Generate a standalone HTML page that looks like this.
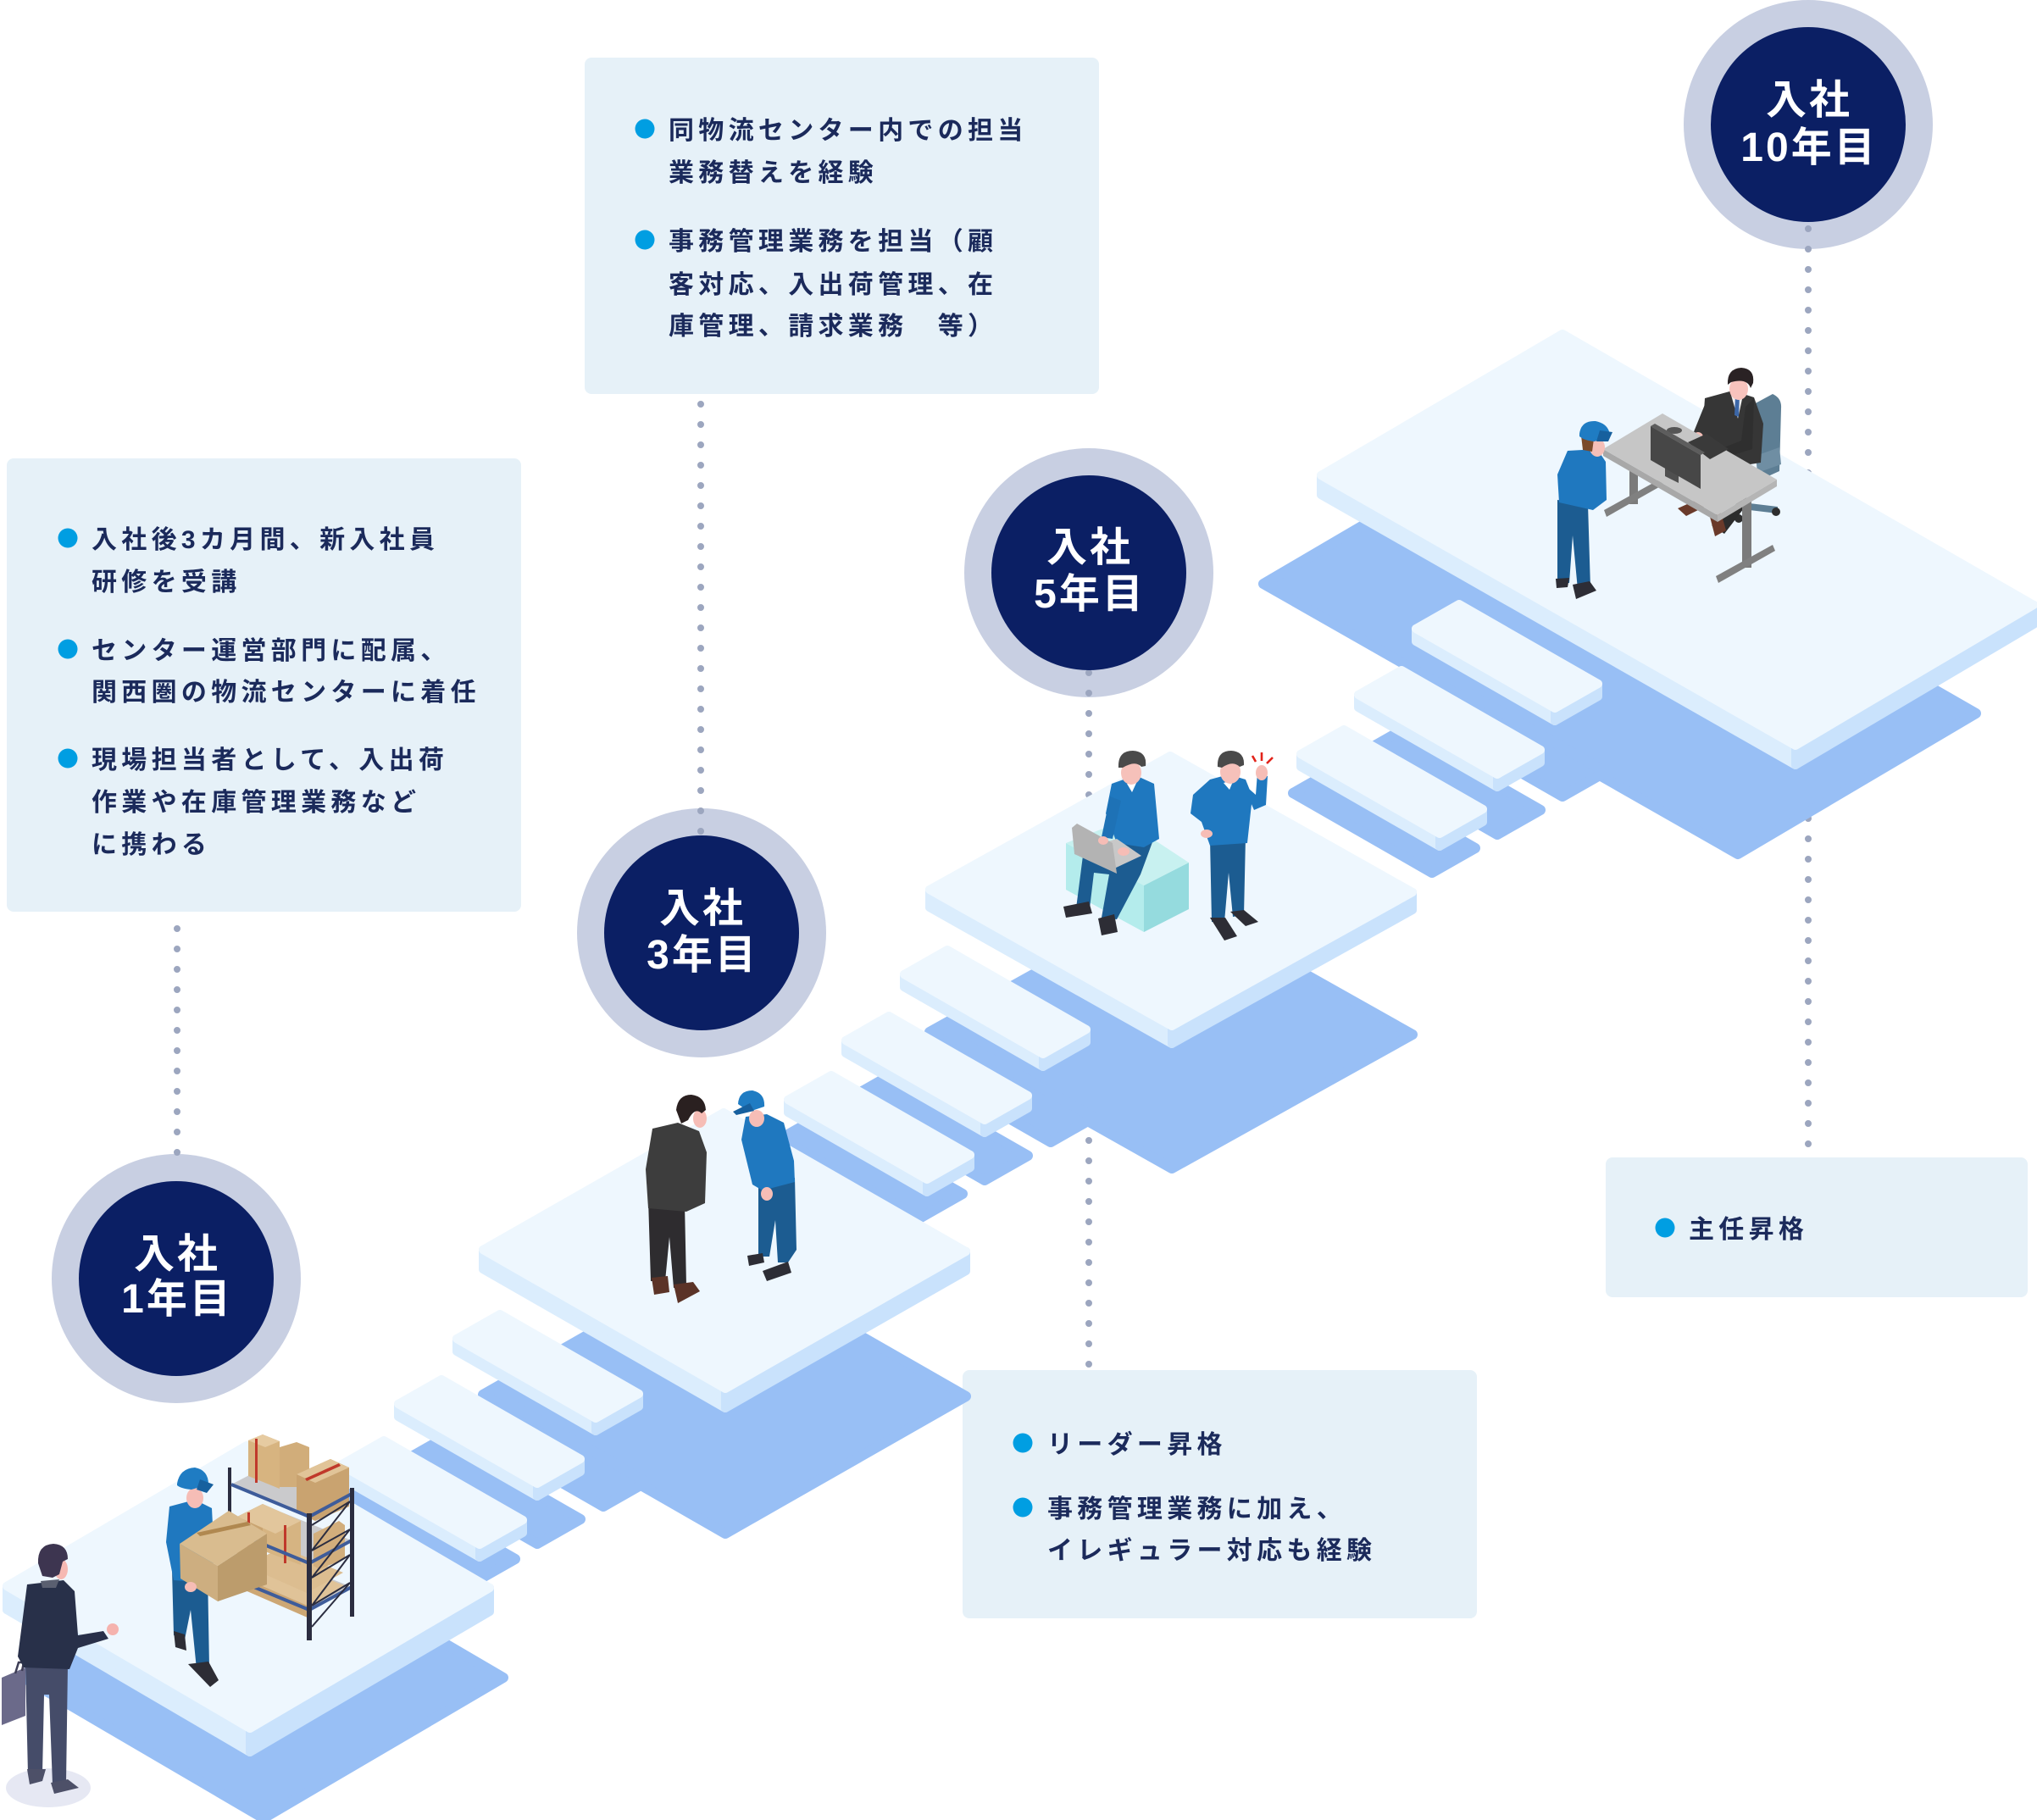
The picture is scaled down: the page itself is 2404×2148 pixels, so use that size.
<!DOCTYPE html>
<html><head><meta charset="utf-8">
<style>
html,body{margin:0;padding:0;background:#fff;}
svg{display:block;}
text{font-family:"Liberation Sans","Noto Sans CJK JP",sans-serif;font-weight:700;}
.bt{font-size:30px;fill:#1b2a5b;letter-spacing:5.3px;}
.ct{font-size:48px;fill:#ffffff;letter-spacing:3px;text-anchor:middle;}
.top{fill:#eef7fe;stroke:#eef7fe;stroke-width:10;stroke-linejoin:round;}
.ls{fill:#dbedfd;stroke:#dbedfd;stroke-width:10;stroke-linejoin:round;}
.rs{fill:#c9e2fc;stroke:#c9e2fc;stroke-width:10;stroke-linejoin:round;}
.sh{fill:#98bff5;stroke:#98bff5;stroke-width:12;stroke-linejoin:round;}
.dot{stroke:#9ca6bf;stroke-width:8;stroke-linecap:round;stroke-dasharray:0 24;fill:none;}
</style></head><body>
<svg width="2404" height="2148" viewBox="0 0 2404 2148" xmlns="http://www.w3.org/2000/svg">
<rect width="2404" height="2148" fill="#ffffff"/>

<!-- text boxes -->
<rect x="8" y="541" width="607" height="535" rx="8" fill="#e6f1f8"/>
<rect x="690" y="68" width="607" height="397" rx="8" fill="#e6f1f8"/>
<rect x="1136" y="1617" width="607" height="293" rx="8" fill="#e6f1f8"/>
<rect x="1895" y="1366" width="498" height="165" rx="8" fill="#e6f1f8"/>

<!-- box1 -->
<circle cx="80" cy="635" r="11.5" fill="#009ee2"/>
<circle cx="80" cy="766" r="11.5" fill="#009ee2"/>
<circle cx="80" cy="895" r="11.5" fill="#009ee2"/>
<text class="bt" x="108" y="647">入社後3カ月間、新入社員</text>
<text class="bt" x="108" y="697">研修を受講</text>
<text class="bt" x="108" y="778">センター運営部門に配属、</text>
<text class="bt" x="108" y="827">関西圏の物流センターに着任</text>
<text class="bt" x="108" y="907">現場担当者として、入出荷</text>
<text class="bt" x="108" y="957">作業や在庫管理業務など</text>
<text class="bt" x="108" y="1007">に携わる</text>

<!-- box2 -->
<circle cx="761" cy="152" r="11.5" fill="#009ee2"/>
<circle cx="761" cy="283" r="11.5" fill="#009ee2"/>
<text class="bt" x="789" y="164">同物流センター内での担当</text>
<text class="bt" x="789" y="214">業務替えを経験</text>
<text class="bt" x="789" y="295">事務管理業務を担当（顧</text>
<text class="bt" x="789" y="346">客対応、入出荷管理、在</text>
<text class="bt" x="789" y="395">庫管理、請求業務　等）</text>

<!-- box3 -->
<circle cx="1207" cy="1703" r="11.5" fill="#009ee2"/>
<circle cx="1207" cy="1779" r="11.5" fill="#009ee2"/>
<text class="bt" x="1236" y="1715">リーダー昇格</text>
<text class="bt" x="1236" y="1791">事務管理業務に加え、</text>
<text class="bt" x="1236" y="1840">イレギュラー対応も経験</text>

<!-- box4 -->
<circle cx="1965" cy="1449" r="11.5" fill="#009ee2"/>
<text class="bt" x="1993" y="1461">主任昇格</text>

<!-- circle rings -->
<circle cx="208" cy="1509" r="147" fill="#c8cfe2"/>
<circle cx="828" cy="1101" r="147" fill="#c8cfe2"/>
<circle cx="1285" cy="676" r="147" fill="#c8cfe2"/>
<circle cx="2134" cy="147" r="147" fill="#c8cfe2"/>

<!-- dotted lines -->
<line class="dot" x1="209" y1="1096" x2="209" y2="1380"/>
<line class="dot" x1="827" y1="477" x2="827" y2="985"/>
<line class="dot" x1="1285" y1="794" x2="1285" y2="1612"/>
<line class="dot" x1="2134" y1="270" x2="2134" y2="1356"/>

<!-- inner circles -->
<circle cx="208" cy="1509" r="115" fill="#0b1f64"/>
<circle cx="828" cy="1101" r="115" fill="#0b1f64"/>
<circle cx="1285" cy="676" r="115" fill="#0b1f64"/>
<circle cx="2134" cy="147" r="115" fill="#0b1f64"/>
<text class="ct" x="209" y="1496">入社</text>
<text class="ct" x="209" y="1549">1年目</text>
<text class="ct" x="829" y="1088">入社</text>
<text class="ct" x="829" y="1143">3年目</text>
<text class="ct" x="1286" y="662">入社</text>
<text class="ct" x="1286" y="717">5年目</text>
<text class="ct" x="2135" y="134">入社</text>
<text class="ct" x="2135" y="190">10年目</text>

<!-- shadows -->
<polygon class="sh" points="1491,689 1776,522 2332,842 2051,1008"/>
<polygon class="sh" points="1680,846 1731,817 1895,911 1844,940"/>
<polygon class="sh" points="1603,891 1654,862 1818,956 1767,985"/>
<polygon class="sh" points="1526,936 1577,907 1741,1001 1690,1030"/>
<polygon class="sh" points="1097,1218 1381,1060 1667,1221 1383,1379"/>
<polygon class="sh" points="1076,1254 1127,1225 1291,1319 1240,1348"/>
<polygon class="sh" points="998,1299 1049,1270 1213,1364 1162,1393"/>
<polygon class="sh" points="921,1344 972,1315 1136,1409 1085,1438"/>
<polygon class="sh" points="570,1646 854,1484 1140,1648 856,1810"/>
<polygon class="sh" points="548,1684 599,1655 763,1749 712,1778"/>
<polygon class="sh" points="470,1728 521,1699 685,1793 634,1822"/>
<polygon class="sh" points="393,1775 444,1746 608,1840 557,1869"/>
<polygon class="sh" points="24,1978 307,1812 594,1980 311,2146"/>

<!-- platform 10 -->
<polygon class="ls" points="1559,561 2119,880 2119,903 1559,584"/>
<polygon class="rs" points="2119,880 2400,714 2400,737 2119,903"/>
<polygon class="top" points="1559,561 1844,394 2400,714 2119,880"/>
<!-- stairs 10 -->
<polygon class="ls" points="1671,742 1835,836 1835,851 1671,757"/>
<polygon class="rs" points="1835,836 1886,807 1886,822 1835,851"/>
<polygon class="top" points="1671,742 1722,713 1886,807 1835,836"/>
<polygon class="ls" points="1603,820 1767,914 1767,929 1603,835"/>
<polygon class="rs" points="1767,914 1818,885 1818,900 1767,929"/>
<polygon class="top" points="1603,820 1654,791 1818,885 1767,914"/>
<polygon class="ls" points="1535,890 1699,984 1699,999 1535,905"/>
<polygon class="rs" points="1699,984 1750,955 1750,970 1699,999"/>
<polygon class="top" points="1535,890 1586,861 1750,955 1699,984"/>

<!-- platform 5 -->
<polygon class="ls" points="1097,1050 1383,1211 1383,1232 1097,1071"/>
<polygon class="rs" points="1383,1211 1667,1053 1667,1074 1383,1232"/>
<polygon class="top" points="1097,1050 1381,892 1667,1053 1383,1211"/>
<!-- stairs 5 -->
<polygon class="ls" points="1067,1150 1231,1244 1231,1259 1067,1165"/>
<polygon class="rs" points="1231,1244 1282,1215 1282,1230 1231,1259"/>
<polygon class="top" points="1067,1150 1118,1121 1282,1215 1231,1244"/>
<polygon class="ls" points="998,1228 1162,1322 1162,1337 998,1243"/>
<polygon class="rs" points="1162,1322 1213,1293 1213,1308 1162,1337"/>
<polygon class="top" points="998,1228 1049,1199 1213,1293 1162,1322"/>
<polygon class="ls" points="930,1298 1094,1392 1094,1407 930,1313"/>
<polygon class="rs" points="1094,1392 1145,1363 1145,1378 1094,1407"/>
<polygon class="top" points="930,1298 981,1269 1145,1363 1094,1392"/>

<!-- platform 3 -->
<polygon class="ls" points="570,1475 856,1639 856,1662 570,1498"/>
<polygon class="rs" points="856,1639 1140,1477 1140,1500 856,1662"/>
<polygon class="top" points="570,1475 854,1313 1140,1477 856,1639"/>
<!-- stairs 3 -->
<polygon class="ls" points="539,1580 703,1674 703,1689 539,1595"/>
<polygon class="rs" points="703,1674 754,1645 754,1660 703,1689"/>
<polygon class="top" points="539,1580 590,1551 754,1645 703,1674"/>
<polygon class="ls" points="470,1657 634,1751 634,1766 470,1672"/>
<polygon class="rs" points="634,1751 685,1722 685,1737 634,1766"/>
<polygon class="top" points="470,1657 521,1628 685,1722 634,1751"/>
<polygon class="ls" points="402,1729 566,1823 566,1838 402,1744"/>
<polygon class="rs" points="566,1823 617,1794 617,1809 566,1838"/>
<polygon class="top" points="402,1729 453,1700 617,1794 566,1823"/>

<!-- platform 1 -->
<polygon class="ls" points="8,1872 295,2040 295,2068 8,1900"/>
<polygon class="rs" points="295,2040 578,1874 578,1902 295,2068"/>
<polygon class="top" points="8,1872 291,1706 578,1874 295,2040"/>

<!-- ===== 10年 scene ===== -->
<!-- chair -->
<path d="M2068 478 L2092 465 Q2103 470 2102 482 L2100 556 L2078 566 Z" fill="#5d7e94"/>
<path d="M2072 538 L2100 528 L2102 548 L2074 558 Z" fill="#6f8ea3"/>
<path d="M2048 592 L2098 598 L2098 606 L2048 600 Z" fill="#5d7e94"/>
<circle cx="2096" cy="604" r="5" fill="#2e2e2e"/>
<circle cx="2052" cy="612" r="5" fill="#2e2e2e"/>
<!-- businessman -->
<path d="M2030 540 L2060 548 L2048 600 L2020 620 L2035 630 L2058 600 L2070 552 Z" fill="#2c2c2c"/>
<path d="M1980 600 L2000 591 L2012 598 L1990 609 Z" fill="#6a3a2a"/>
<path d="M2018 610 L2031 605 L2037 626 L2024 633 Z" fill="#6a3a2a"/>
<path d="M2012 470 L2045 461 L2070 469 L2081 500 L2078 546 L2040 552 L2020 532 L2010 500 Z" fill="#363636"/>
<path d="M2015 470 L2032 478 L2012 516 L1998 512 Z" fill="#363636"/>
<path d="M2060 480 L2070 470 L2068 530 L2035 540 L2030 530 L2055 520 Z" fill="#2f2f2f"/>
<path d="M2042 463 L2058 462 L2051 494 Z" fill="#f0f0f0"/>
<path d="M2048 466 L2053 466 L2052 492 L2047 490 Z" fill="#3c67a8"/>
<ellipse cx="2052" cy="459" rx="11" ry="13" fill="#f8c3bd"/>
<path d="M2039 454 Q2038 435 2055 434 Q2071 435 2069 452 L2066 458 Q2062 446 2043 451 Z" fill="#2a2224"/>
<circle cx="2004" cy="516" r="6" fill="#f6bdb6"/>
<circle cx="2032" cy="534" r="6" fill="#f6bdb6"/>
<!-- desk legs -->
<rect x="1923" y="555" width="10" height="40" fill="#7b7b7b"/>
<path d="M1893 602 L1960 565 L1963 572 L1896 610 Z" fill="#808080"/>
<rect x="2056" y="590" width="11" height="80" fill="#7b7b7b"/>
<path d="M2025 680 L2092 643 L2095 650 L2028 688 Z" fill="#808080"/>
<!-- desk top -->
<path d="M1892 530 L2027 608 L2027 616 L1892 538 Z" fill="#a8a8a8"/>
<path d="M2027 608 L2097 566 L2097 574 L2027 616 Z" fill="#b5b5b5"/>
<path d="M1892 530 L1962 488 L2097 566 L2027 608 Z" fill="#c6c6c6"/>
<!-- keyboard -->
<path d="M1992 522 L2014 512 L2040 530 L2018 542 Z" fill="#3a3a3a"/>
<!-- monitor -->
<ellipse cx="1976" cy="508" rx="9" ry="4" fill="#555"/>
<path d="M1965 543 L1981 551 L1981 570 L1965 562 Z" fill="#4f4f4f"/>
<path d="M1948 503 L1953 500 L2012 534 L2007 537 Z" fill="#5d5d5d"/>
<path d="M1948 503 L2007 537 L2007 577 L1948 543 Z" fill="#474747"/>
<!-- worker 10 -->
<path d="M1838 590 L1874 595 L1877 694 L1862 696 L1856 632 L1852 688 L1838 688 Z" fill="#1c5c91"/>
<path d="M1836 683 L1852 682 L1850 693 L1837 694 Z" fill="#2d2d35"/>
<path d="M1856 690 L1876 686 L1884 697 L1860 707 Z" fill="#2d2d35"/>
<path d="M1850 532 L1885 530 L1895 545 L1896 590 L1880 602 L1840 593 L1838 560 Z" fill="#1f78bf"/>
<ellipse cx="1885" cy="528" rx="9" ry="11" fill="#f5bfb8"/>
<path d="M1866 514 L1881 518 L1879 533 L1868 531 Z" fill="#7a4a2a"/>
<path d="M1864 512 Q1866 496 1883 497 Q1898 500 1900 513 L1882 521 Q1870 520 1864 515 Z" fill="#1f7cc3"/>
<path d="M1888 508 L1903 510 L1898 521 L1884 521 Z" fill="#17609e"/>

<!-- ===== 5年 scene ===== -->
<path d="M1258 995 L1350 1045 L1350 1100 L1258 1050 Z" fill="#b4ecec"/>
<path d="M1350 1045 L1403 1018 L1403 1073 L1350 1100 Z" fill="#95dbde"/>
<path d="M1258 995 L1327 968 L1403 1018 L1350 1045 Z" fill="#c8f1f0"/>
<!-- seated worker -->
<path d="M1322 988 L1360 994 L1346 1032 L1318 1085 L1300 1083 L1309 1032 L1291 1030 L1286 1072 L1270 1072 L1278 1010 Z" fill="#1c5c91"/>
<path d="M1255 1070 L1285 1064 L1289 1078 L1258 1083 Z" fill="#2d2d35"/>
<path d="M1296 1084 L1315 1079 L1319 1100 L1300 1104 Z" fill="#2d2d35"/>
<path d="M1312 925 L1340 915 L1362 925 L1368 990 L1350 1000 L1318 995 L1305 960 Z" fill="#1f78bf"/>
<path d="M1310 940 L1323 945 L1313 990 L1300 988 Z" fill="#1e72b6"/>
<path d="M1330 925 L1342 922 L1336 935 Z" fill="#ffffff"/>
<path d="M1285 1000 L1318 990 L1347 1010 L1315 1025 Z" fill="#c8c8c8"/>
<path d="M1265 977 L1271 972 L1313 995 L1318 1031 L1268 1008 Z" fill="#b3b3b3"/>
<ellipse cx="1302" cy="992" rx="6" ry="5" fill="#f6bdb6"/>
<ellipse cx="1326" cy="1005" rx="7" ry="5" fill="#f6bdb6"/>
<ellipse cx="1335" cy="912" rx="12" ry="14" fill="#f6c1ba"/>
<path d="M1320 906 Q1319 886 1337 886 Q1354 887 1352 904 L1347 905 Q1340 897 1325 906 Z" fill="#4a4a4a"/>
<!-- standing worker -->
<path d="M1428 990 L1470 988 L1468 1080 L1455 1082 L1450 1030 L1445 1088 L1430 1088 Z" fill="#1c5c91"/>
<path d="M1428 1083 L1446 1083 L1460 1105 L1445 1110 Z" fill="#2d2d35"/>
<path d="M1452 1076 L1468 1074 L1485 1088 L1470 1093 Z" fill="#2d2d35"/>
<path d="M1428 920 L1450 914 L1470 920 L1478 940 L1472 995 L1428 998 L1418 970 L1405 960 L1408 938 Z" fill="#1f78bf"/>
<path d="M1466 924 L1480 956 L1494 950 L1496 916 L1484 912 L1482 938 Z" fill="#1f78bf"/>
<ellipse cx="1489" cy="912" rx="7" ry="9" fill="#f6bdb6"/>
<ellipse cx="1424" cy="984" rx="7" ry="5" fill="#f6bdb6"/>
<path d="M1444 924 L1456 920 L1451 932 Z" fill="#ffffff"/>
<ellipse cx="1452" cy="911" rx="12" ry="14" fill="#f6c1ba"/>
<path d="M1437 905 Q1436 886 1453 886 Q1469 887 1468 903 L1463 905 Q1455 897 1442 906 Z" fill="#4a4a4a"/>
<path d="M1478 892 L1482 899 M1489 888 L1489 898 M1502 894 L1495 901" stroke="#e2231a" stroke-width="2.6" fill="none"/>

<!-- ===== 3年 scene ===== -->
<path d="M765 1415 L808 1420 L810 1518 L795 1520 L790 1460 L785 1512 L768 1512 Z" fill="#2e2c2f"/>
<path d="M769 1508 L788 1506 L790 1525 L772 1528 Z" fill="#5b3327"/>
<path d="M795 1516 L818 1513 L826 1524 L800 1538 Z" fill="#5b3327"/>
<path d="M770 1332 L800 1325 L825 1335 L834 1360 L832 1420 L810 1430 L765 1426 L762 1380 Z" fill="#3d3d3d"/>
<ellipse cx="826" cy="1320" rx="8" ry="11" fill="#f6bdb6"/>
<path d="M798 1310 Q800 1292 816 1292 Q832 1294 833 1310 L828 1314 Q820 1306 812 1322 L804 1326 Z" fill="#2a2020"/>
<path d="M895 1395 L938 1390 L940 1475 L930 1490 L918 1490 L915 1440 L908 1483 L895 1483 Z" fill="#1c5c91"/>
<path d="M882 1482 L900 1479 L902 1490 L884 1494 Z" fill="#2d2d35"/>
<path d="M900 1500 L930 1489 L934 1502 L905 1512 Z" fill="#2d2d35"/>
<path d="M880 1318 L905 1315 L925 1325 L937 1370 L938 1395 L900 1405 L888 1398 L875 1345 Z" fill="#1f78bf"/>
<ellipse cx="905" cy="1409" rx="7" ry="8" fill="#f6bdb6"/>
<ellipse cx="893" cy="1320" rx="9" ry="10" fill="#f6bdb6"/>
<path d="M871 1303 Q872 1287 888 1287 Q903 1290 902 1306 L884 1312 Z" fill="#1f7cc3"/>
<path d="M865 1312 L885 1302 L890 1311 L869 1316 Z" fill="#17609e"/>

<!-- ===== 1年 scene ===== -->
<!-- shelf -->
<rect x="269" y="1732" width="4" height="60" fill="#2b2d40"/>
<polygon points="273,1752 323,1726 415,1763 365,1790" fill="#cacacc"/>
<polygon points="273,1807 323,1781 415,1818 365,1845" fill="#cacacc"/>
<polygon points="273,1862 323,1836 415,1873 365,1900" fill="#cacacc"/>
<!-- bottom shelf boxes -->
<polygon points="287,1862 330,1840 408,1872 365,1896" fill="#e0c398"/>
<polygon points="287,1862 365,1896 365,1910 287,1876" fill="#cda774"/>
<polygon points="290,1848 333,1826 405,1856 362,1880" fill="#dcbd90"/>
<!-- middle shelf boxes -->
<polygon points="280,1790 310,1775 310,1830 280,1845" fill="#c9a471"/>
<polygon points="310,1775 355,1795 355,1847 310,1830" fill="#d6b482"/>
<polygon points="280,1790 310,1775 355,1795 325,1810" fill="#e2c69c"/>
<polygon points="370,1810 400,1795 407,1800 407,1840 377,1852 370,1848" fill="#d2ae7c"/>
<rect x="292" y="1785" width="3" height="50" fill="#c0392b"/>
<rect x="335" y="1800" width="3" height="45" fill="#c0392b"/>
<!-- top shelf boxes -->
<polygon points="293,1700 310,1693 330,1701 330,1757 293,1742" fill="#d7b480"/>
<polygon points="293,1700 310,1693 330,1701 313,1708" fill="#e6cba1"/>
<polygon points="330,1708 350,1702 365,1708 365,1755 330,1755" fill="#d1ad7a"/>
<polygon points="350,1740 390,1722 412,1732 412,1778 372,1795 350,1785" fill="#c9a370"/>
<polygon points="350,1740 390,1722 412,1732 372,1750" fill="#e1c498"/>
<rect x="301" y="1698" width="3" height="52" fill="#c0392b"/>
<polygon points="360,1745 400,1727 402,1730 362,1748" fill="#c0392b"/>
<!-- shelf front edges and posts -->
<polyline points="273,1752 365,1790 415,1763" fill="none" stroke="#3e5c9a" stroke-width="4"/>
<polyline points="273,1807 365,1845 415,1818" fill="none" stroke="#3e5c9a" stroke-width="4"/>
<polyline points="273,1862 365,1900 415,1873" fill="none" stroke="#3e5c9a" stroke-width="4"/>
<rect x="362" y="1786" width="6" height="150" fill="#2b2d40"/>
<rect x="413" y="1756" width="5" height="152" fill="#2b2d40"/>
<polyline points="368,1800 413,1772 368,1830 413,1805 368,1862 413,1835 368,1895 413,1868 368,1920" fill="none" stroke="#2b2d40" stroke-width="2"/>
<!-- worker carrying box -->
<path d="M203 1852 L245 1855 L247 1968 L232 1970 L225 1900 L218 1935 L205 1930 Z" fill="#1c5c91"/>
<path d="M205 1925 L218 1929 L220 1948 L207 1944 Z" fill="#2d2d35"/>
<path d="M222 1964 L246 1961 L258 1983 L248 1991 Z" fill="#2d2d35"/>
<path d="M200 1778 L230 1770 L250 1780 L253 1840 L245 1868 L205 1865 L196 1820 Z" fill="#1f78bf"/>
<ellipse cx="230" cy="1768" rx="10" ry="12" fill="#f6bdb6"/>
<path d="M209 1751 Q212 1733 230 1732 Q246 1735 246 1752 L226 1758 Q214 1757 209 1753 Z" fill="#1f7cc3"/>
<path d="M236 1746 L252 1752 L244 1762 L232 1758 Z" fill="#17609e"/>
<path d="M212 1822 L257 1848 L257 1890 L213 1863 Z" fill="#cdae80"/>
<path d="M257 1848 L315 1810 L315 1870 L257 1890 Z" fill="#bc9c6c"/>
<path d="M212 1822 L270 1783 L315 1810 L257 1848 Z" fill="#d9bc8f"/>
<path d="M232 1809 L292 1796 L296 1800 L236 1813 Z" fill="#b08850"/>
<ellipse cx="225" cy="1873" rx="7" ry="6" fill="#f6bdb6"/>
<!-- businessman -->
<ellipse cx="57" cy="2110" rx="50" ry="23" fill="#e6e8f3"/>
<path d="M2 1980 L30 1968 L30 2025 L2 2036 Z" fill="#6b6a8a"/>
<path d="M18 1975 L22 1962 L28 1962 L26 1972" fill="none" stroke="#3d3d55" stroke-width="2.5"/>
<path d="M30 1965 L80 1965 L78 2104 L62 2106 L58 2000 L52 2000 L50 2094 L33 2094 Z" fill="#454c69"/>
<path d="M32 2088 L54 2088 L50 2102 L35 2106 Z" fill="#4d5068"/>
<path d="M60 2104 L80 2100 L93 2110 L64 2117 Z" fill="#4d5068"/>
<path d="M32 1870 L75 1865 L88 1878 L92 1930 L122 1925 L128 1934 L92 1945 L82 1970 L28 1968 L21 1955 Z" fill="#283049"/>
<path d="M48 1866 L70 1864 L66 1874 L50 1874 Z" fill="#5a5f70"/>
<circle cx="133" cy="1923" r="7" fill="#f5b3ae"/>
<ellipse cx="72" cy="1852" rx="8" ry="12" fill="#f6b9b3"/>
<path d="M45 1845 Q44 1823 63 1822 Q80 1823 80 1840 L74 1843 L70 1858 L62 1862 L50 1860 Z" fill="#3d3550"/>
</svg>
</body></html>
